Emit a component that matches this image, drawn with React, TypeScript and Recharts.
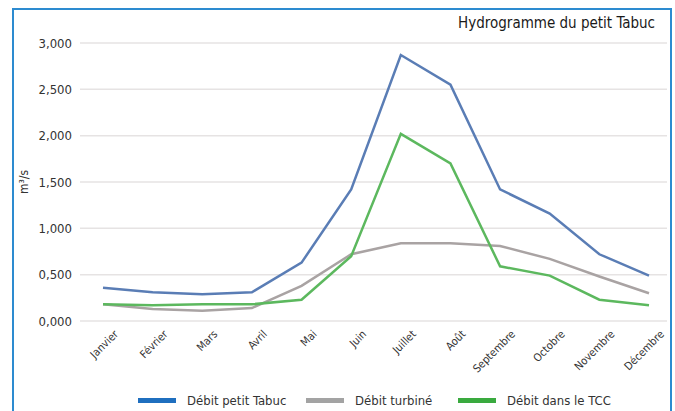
import React from 'react';
import { LineChart, Line, XAxis, YAxis, CartesianGrid } from 'recharts';

const months = ['Janvier', 'Février', 'Mars', 'Avril', 'Mai', 'Juin', 'Juillet', 'Août', 'Septembre', 'Octobre', 'Novembre', 'Décembre'];
const debitPetitTabuc = [0.36, 0.31, 0.29, 0.31, 0.63, 1.42, 2.87, 2.55, 1.42, 1.16, 0.72, 0.49];
const debitTurbine = [0.18, 0.13, 0.11, 0.14, 0.38, 0.72, 0.84, 0.84, 0.81, 0.67, 0.48, 0.30];
const debitTCC = [0.18, 0.17, 0.18, 0.18, 0.23, 0.70, 2.02, 1.70, 0.59, 0.49, 0.23, 0.17];
const yTicks = [0, 0.5, 1, 1.5, 2, 2.5, 3];

const data = months.map((m, i) => ({ idx: i, month: m, tabuc: debitPetitTabuc[i], turbine: debitTurbine[i], tcc: debitTCC[i] }));

const FONT = "'Liberation Sans Narrow', 'DejaVu Sans Condensed', sans-serif";

const legendItems = [
  { label: 'Débit petit Tabuc', color: '#1f6fbf' },
  { label: 'Débit turbiné', color: '#a3a3a3' },
  { label: 'Débit dans le TCC', color: '#3aaa3f' },
];

const MonthTick = (props: any) => {
  const { x, y, payload } = props;
  return (
    <g transform={`translate(${x + 13},${y + 3})`}>
      <text textAnchor="end" transform="rotate(-45)" fontSize={11} fill="#333" fontFamily={FONT} dy={4}>
        {months[payload.value]}
      </text>
    </g>
  );
};

export default function App() {
  return (
    <div style={{ position: 'absolute', left: 0, top: 0, width: 675, height: 411, overflow: 'hidden', background: '#fff' }}>
      <div style={{ position: 'absolute', left: 12, top: 8, width: 660, height: 440, border: '2px solid #2d8bd0', boxSizing: 'border-box' }} />
      <div style={{ position: 'absolute', right: 20, top: 14, fontFamily: FONT, fontSize: 15, color: '#1a1a1a' }}>
        Hydrogramme du petit Tabuc
      </div>
      <div style={{ position: 'absolute', left: 0, top: 0 }}>
        <LineChart width={675} height={411} data={data} margin={{ top: 43, right: 8, bottom: 30, left: 20 }}>
          <CartesianGrid vertical={false} stroke="#e6e3e3" strokeWidth={1.5} />
          <XAxis
            dataKey="idx"
            type="number"
            domain={[0, 11]}
            ticks={[0, 1, 2, 3, 4, 5, 6, 7, 8, 9, 10, 11]}
            interval={0}
            padding={{ left: 23, right: 18 }}
            axisLine={false}
            tickLine={false}
            tick={<MonthTick />}
            height={60}
          />
          <YAxis
            domain={[0, 3]}
            ticks={yTicks}
            axisLine={false}
            tickLine={false}
            width={60}
            tick={{ fontSize: 13, fill: '#333', fontFamily: FONT }}
            tickFormatter={(v: number) => v.toFixed(3).replace('.', ',')}
            label={{ value: 'm³/s', angle: -90, position: 'insideLeft', offset: 0, dx: 4, style: { fontSize: 12, fill: '#333', fontFamily: FONT, textAnchor: 'middle' } }}
          />
          <Line type="linear" dataKey="turbine" stroke="#a9a3a3" strokeWidth={2.5} dot={false} isAnimationActive={false} />
          <Line type="linear" dataKey="tcc" stroke="#5cb85e" strokeWidth={2.5} dot={false} isAnimationActive={false} />
          <Line type="linear" dataKey="tabuc" stroke="#5a7db5" strokeWidth={2.5} dot={false} isAnimationActive={false} />
        </LineChart>
      </div>
      <div style={{ position: 'absolute', left: 0, top: 390, width: 675, height: 20, fontFamily: FONT }}>
        {legendItems.map((it, i) => {
          const lefts = [138, 306, 458];
          return (
            <div key={i} style={{ position: 'absolute', left: lefts[i], top: 0, display: 'flex', alignItems: 'center', height: 20 }}>
              <div style={{ width: 38, height: 5, background: it.color, marginRight: 11 }} />
              <span style={{ fontSize: 13, color: '#333' }}>{it.label}</span>
            </div>
          );
        })}
      </div>
    </div>
  );
}
